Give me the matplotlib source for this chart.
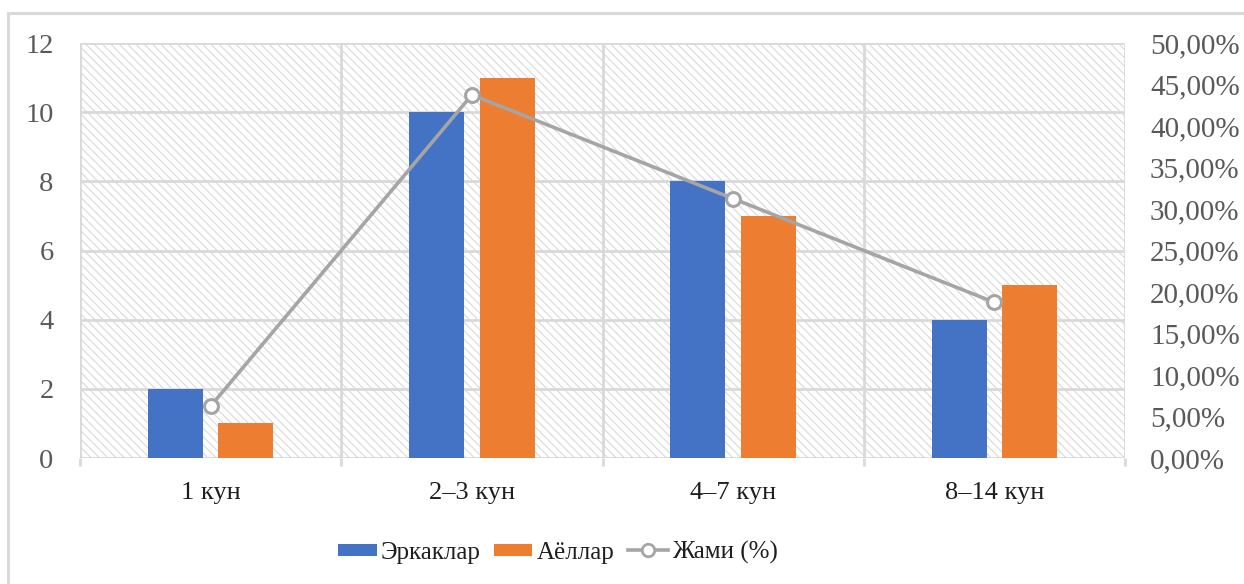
import matplotlib
matplotlib.use("Agg")
import matplotlib.pyplot as plt
from matplotlib import font_manager
from matplotlib.font_manager import FontProperties
from matplotlib.patches import Rectangle
from matplotlib.lines import Line2D
from matplotlib.ticker import FuncFormatter, MultipleLocator
import numpy as np

# Data
categories = ["1 кун", "2–3 кун", "4–7 кун", "8–14 кун"]
men = [2, 10, 8, 4]
women = [1, 11, 7, 5]
total_pct = [6.25, 43.75, 31.25, 18.75]
series_names = ["Эркаклар", "Аёллар", "Жами (%)"]

BLUE = "#4472C4"
ORANGE = "#ED7D31"
GREY_LINE = "#A5A5A5"
GRID = "#D9D9D9"
TEXT = "#595959"
DARK = "#1E1E1E"

FONT = "Liberation Serif"
FONT_PATH = font_manager.findfont(FontProperties(family=FONT))
plt.rcParams["font.family"] = FONT
plt.rcParams["hatch.color"] = "#D4D4D4"
plt.rcParams["hatch.linewidth"] = 0.7


def serif(size):
    return FontProperties(fname=FONT_PATH, size=size)


W, H = 1244, 584
fig = plt.figure(figsize=(W / 100, H / 100), dpi=100)

# outer chart frame
fig.patches.append(Rectangle((8 / W, -0.1), 1.2, 1.1 - 13 / H, transform=fig.transFigure,
                             facecolor="none", edgecolor=GRID, linewidth=2.2, zorder=0))

left, right, top, bottom = 80, 1125, 43, 458
ax = fig.add_axes([left / W, 1 - bottom / H, (right - left) / W, (bottom - top) / H])
ax.set_facecolor("white")

# hatched plot background
ax.add_patch(Rectangle((0, 0), 1, 1, transform=ax.transAxes, facecolor="white",
                       edgecolor="#D4D4D4", linewidth=0, hatch="\\\\\\\\", zorder=0))

x = np.arange(len(categories))
bw = 0.21
off = 0.135
ax.bar(x - off, men, width=bw, color=BLUE, zorder=3)
ax.bar(x + off, women, width=bw, color=ORANGE, zorder=3)

ax.set_xlim(-0.5, len(categories) - 0.5)
ax.set_ylim(0, 12)
ax.yaxis.set_major_locator(MultipleLocator(2))

# horizontal grid
for yv in range(0, 13, 2):
    ax.axhline(yv, color=GRID, linewidth=2, zorder=1)
# category boundaries
ax.set_xticks(np.arange(-0.5, len(categories), 1.0))
ax.set_xticklabels([])
ax.set_xticks(x, minor=True)
ax.set_xticklabels(categories, minor=True)
for xv in np.arange(-0.5, len(categories), 1.0):
    ax.axvline(xv, color=GRID, linewidth=2, zorder=1)
ax.tick_params(axis="x", which="major", length=6, width=2, color=GRID)
ax.tick_params(axis="x", which="minor", length=0, pad=17, labelcolor=DARK)
ax.tick_params(axis="y", length=0, pad=19, labelcolor=TEXT)

for s in ax.spines.values():
    s.set_visible(False)

# secondary axis for totals
ax2 = ax.twinx()
ax2.set_ylim(0, 50)
ax2.yaxis.set_major_locator(MultipleLocator(5))
ax2.yaxis.set_major_formatter(FuncFormatter(lambda v, p: f"{v:.2f}".replace(".", ",") + "%"))
ax2.tick_params(axis="y", length=0, pad=18, labelcolor=TEXT)
for s in ax2.spines.values():
    s.set_visible(False)
ax2.plot(x, total_pct, color=GREY_LINE, linewidth=2.6, marker="o", markersize=10,
         markerfacecolor="white", markeredgecolor=GREY_LINE, markeredgewidth=2.2, zorder=4)

for lab in ax.get_xticklabels(minor=True):
    lab.set_fontproperties(serif(19))
for lab in ax.get_yticklabels():
    lab.set_fontproperties(serif(20.5))
for lab in ax2.get_yticklabels():
    lab.set_fontproperties(serif(21))

# legend row drawn as keys + labels in figure pixels
leg_y = 1 - 550 / H
key_h = 12 / H
fig.patches.append(Rectangle((338 / W, leg_y - key_h / 2), 39 / W, key_h,
                             transform=fig.transFigure, facecolor=BLUE, edgecolor="none"))
fig.patches.append(Rectangle((494 / W, leg_y - key_h / 2), 38 / W, key_h,
                             transform=fig.transFigure, facecolor=ORANGE, edgecolor="none"))
fig.lines.append(Line2D([628 / W, 668 / W], [leg_y, leg_y], transform=fig.transFigure,
                        color=GREY_LINE, linewidth=2.6))
fig.lines.append(Line2D([648 / W], [leg_y], transform=fig.transFigure, color=GREY_LINE,
                        marker="o", markersize=9, markerfacecolor="white",
                        markeredgecolor=GREY_LINE, markeredgewidth=2))
for name, tx in zip(series_names, [381, 537, 672]):
    fig.text(tx / W, leg_y, name, fontproperties=serif(18), color=DARK,
             ha="left", va="center_baseline")

fig.savefig("out.png", dpi=100)
